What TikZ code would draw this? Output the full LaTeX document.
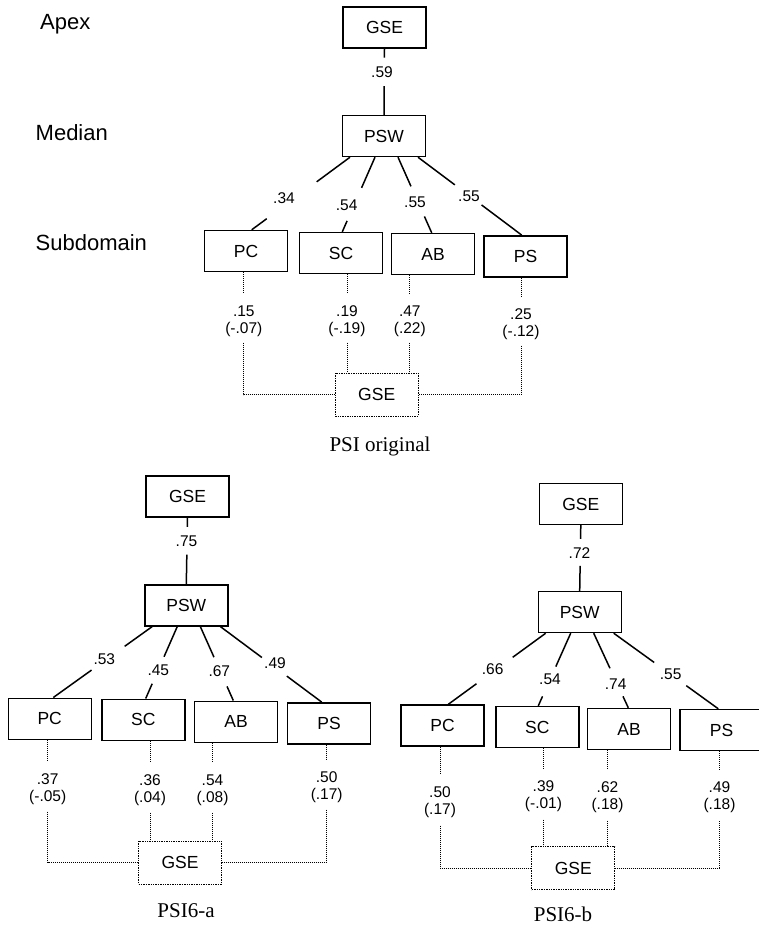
\documentclass[tikz,border=0pt]{standalone}
\usepackage{fontspec}
\setmainfont{Liberation Sans}
\newfontfamily\serifcap{Liberation Serif}
\usetikzlibrary{calc}
\tikzset{
 box/.style={draw, line width=1.4pt, minimum width=83pt, minimum height=41pt, inner sep=0pt, font=\fontsize{17.5}{20}\selectfont},
 dbox/.style={box, densely dotted, line width=1pt, minimum height=43pt},
 edge/.style={line width=1.5pt},
 dots/.style={densely dotted, line width=1pt},
 coef/.style={inner sep=0pt, font=\fontsize{15.5}{17}\selectfont},
 pair/.style={inner sep=0pt, align=center, font=\fontsize{15.5}{17}\selectfont},
 levellab/.style={anchor=base west, inner sep=0pt, font=\fontsize{22}{26}\selectfont},
 captext/.style={inner sep=0pt, font=\serifcap\fontsize{21}{25}\selectfont},
}
\newcommand\gapedge[4]{%
 \draw[edge] (#1) -- ($(#1)!#3!(#2)$);
 \draw[edge] ($(#1)!#4!(#2)$) -- (#2);}
\begin{document}
\begin{tikzpicture}[x=1pt,y=-1pt]
\useasboundingbox (0,0) rectangle (758,931);
% level labels
\node[levellab] (apex) at (40,29.5) {Apex};
\node[levellab] (median) at (35.5,140) {Median};
\node[levellab] (subd) at (35.5,250.5) {Subdomain};

% ===== PSI original =====
\node[box] (gse1) at (384.5,27.5) {GSE};
\node[box] (psw1) at (384,136) {PSW};
\node[box] (pc1) at (246,251) {PC};
\node[box] (sc1) at (341,253) {SC};
\node[box] (ab1) at (433,254) {AB};
\node[box] (ps1) at (525.5,256.3) {PS};
\node[dbox] (gseb1) at (376.7,394.7) {GSE};
\node[captext] (cap1) at (380,446) {PSI original};
\node[coef] (c1) at (382,72) {.59};
\gapedge{gse1.south}{psw1.north}{0.134}{0.567}
\node[coef] (l11) at (284,198) {.34};
\node[coef] (l12) at (346.7,205) {.54};
\node[coef] (l13) at (415,202) {.55};
\node[coef] (l14) at (469,196) {.55};
\coordinate (s11) at ($(psw1.south)+(-34,0)$);
\coordinate (s12) at ($(psw1.south)+(-9,0)$);
\coordinate (s13) at ($(psw1.south)+(14,0)$);
\coordinate (s14) at ($(psw1.south)+(34,0)$);
\coordinate (e11) at ($(pc1.north)+(5.7,0)$);
\coordinate (e12) at ($(sc1.north)+(1.3,0)$);
\coordinate (e13) at ($(ab1.north)+(-1.3,0)$);
\coordinate (e14) at ($(ps1.north)+(-3.8,0)$);
\gapedge{s11}{e11}{0.339}{0.847}
\gapedge{s12}{e12}{0.411}{0.853}
\gapedge{s13}{e13}{0.385}{0.784}
\gapedge{s14}{e14}{0.355}{0.613}
\node[pair] (p11) at (243.8,321) {.15\\(-.07)};
\node[pair] (p12) at (347,321) {.19\\(-.19)};
\node[pair] (p13) at (409.8,321) {.47\\(.22)};
\node[pair] (p14) at (521,324) {.25\\(-.12)};
\draw[dots] (p11.north |- pc1.south) -- ($(p11.north)+(0,-12)$);
\draw[dots] (p12.north |- sc1.south) -- ($(p12.north)+(0,-12)$);
\draw[dots] (p13.north |- ab1.south) -- ($(p13.north)+(0,-12)$);
\draw[dots] (p14.north |- ps1.south) -- ($(p14.north)+(0,-12)$);
\draw[dots] ($(p11.south)+(0,6)$) |- (gseb1.west);
\draw[dots] ($(p12.south)+(0,6)$) -- (p12.south |- gseb1.north);
\draw[dots] ($(p13.south)+(0,6)$) -- (p13.south |- gseb1.north);
\draw[dots] ($(p14.south)+(0,6)$) |- (gseb1.east);

% ===== PSI6-a =====
\node[box] (gse2) at (187.5,496.5) {GSE};
\node[box] (psw2) at (186.3,605.3) {PSW};
\node[box] (pc2) at (49.7,718.7) {PC};
\node[box] (sc2) at (143.3,719.7) {SC};
\node[box] (ab2) at (236,721.7) {AB};
\node[box] (ps2) at (329,723.3) {PS};
\node[dbox] (gseb2) at (180,862.5) {GSE};
\node[captext] (cap2) at (186,911) {PSI6-a};
\node[coef] (c2) at (186.5,541) {.75};
\gapedge{gse2.south}{psw2.north}{0.139}{0.557}
\node[coef] (l21) at (104.3,659.3) {.53};
\node[coef] (l22) at (158.3,670) {.45};
\node[coef] (l23) at (219.3,670.7) {.67};
\node[coef] (l24) at (275,663.3) {.49};
\coordinate (s21) at ($(psw2.south)+(-34,0)$);
\coordinate (s22) at ($(psw2.south)+(-9,0)$);
\coordinate (s23) at ($(psw2.south)+(14,0)$);
\coordinate (s24) at ($(psw2.south)+(34,0)$);
\coordinate (e21) at ($(pc2.north)+(3.6,0)$);
\coordinate (e22) at ($(sc2.north)+(2.4,0)$);
\coordinate (e23) at ($(ab2.north)+(-2.7,0)$);
\coordinate (e24) at ($(ps2.north)+(-7.3,0)$);
\gapedge{s21}{e21}{0.279}{0.614}
\gapedge{s22}{e22}{0.42}{0.795}
\gapedge{s23}{e23}{0.415}{0.81}
\gapedge{s24}{e24}{0.41}{0.656}
\node[pair] (p21) at (47.7,789) {.37\\(-.05)};
\node[pair] (p22) at (150,790) {.36\\(.04)};
\node[pair] (p23) at (212.5,790) {.54\\(.08)};
\node[pair] (p24) at (326.7,787) {.50\\(.17)};
\draw[dots] (p21.north |- pc2.south) -- ($(p21.north)+(0,-12)$);
\draw[dots] (p22.north |- sc2.south) -- ($(p22.north)+(0,-12)$);
\draw[dots] (p23.north |- ab2.south) -- ($(p23.north)+(0,-12)$);
\draw[dots] (p24.north |- ps2.south) -- ($(p24.north)+(0,-12)$);
\draw[dots] ($(p21.south)+(0,7)$) |- (gseb2.west);
\draw[dots] ($(p22.south)+(0,7)$) -- (p22.south |- gseb2.north);
\draw[dots] ($(p23.south)+(0,7)$) -- (p23.south |- gseb2.north);
\draw[dots] ($(p24.south)+(0,7)$) |- (gseb2.east);

% ===== PSI6-b =====
\node[box] (gse3) at (580.8,504) {GSE};
\node[box] (psw3) at (579.7,612) {PSW};
\node[box] (pc3) at (442.5,725.5) {PC};
\node[box] (sc3) at (537.3,727) {SC};
\node[box] (ab3) at (629,729) {AB};
\node[box] (ps3) at (721.5,730) {PS};
\node[dbox] (gseb3) at (573.3,868) {GSE};
\node[captext] (cap3) at (563,914) {PSI6-b};
\node[coef] (c3) at (579.5,552.7) {.72};
\gapedge{gse3.south}{psw3.north}{0.208}{0.62}
\node[coef] (l31) at (492.7,669.3) {.66};
\node[coef] (l32) at (550,679.3) {.54};
\node[coef] (l33) at (615.7,684.3) {.74};
\node[coef] (l34) at (670.7,674.3) {.55};
\coordinate (s31) at ($(psw3.south)+(-34,0)$);
\coordinate (s32) at ($(psw3.south)+(-9,0)$);
\coordinate (s33) at ($(psw3.south)+(14,0)$);
\coordinate (s34) at ($(psw3.south)+(34,0)$);
\coordinate (e31) at ($(pc3.north)+(5.8,0)$);
\coordinate (e32) at ($(sc3.north)+(1,0)$);
\coordinate (e33) at ($(ab3.north)+(-0.7,0)$);
\coordinate (e34) at ($(ps3.north)+(-3.2,0)$);
\gapedge{s31}{e31}{0.339}{0.711}
\gapedge{s32}{e32}{0.46}{0.87}
\gapedge{s33}{e33}{0.47}{0.846}
\gapedge{s34}{e34}{0.387}{0.694}
\node[pair] (p31) at (440,802) {.50\\(.17)};
\node[pair] (p32) at (543.5,796) {.39\\(-.01)};
\node[pair] (p33) at (607.5,797) {.62\\(.18)};
\node[pair] (p34) at (719.5,797.5) {.49\\(.18)};
\draw[dots] (p31.north |- pc3.south) -- ($(p31.north)+(0,-12)$);
\draw[dots] (p32.north |- sc3.south) -- ($(p32.north)+(0,-12)$);
\draw[dots] (p33.north |- ab3.south) -- ($(p33.north)+(0,-12)$);
\draw[dots] (p34.north |- ps3.south) -- ($(p34.north)+(0,-12)$);
\draw[dots] ($(p31.south)+(0,8)$) |- (gseb3.west);
\draw[dots] ($(p32.south)+(0,8)$) -- (p32.south |- gseb3.north);
\draw[dots] ($(p33.south)+(0,8)$) -- (p33.south |- gseb3.north);
\draw[dots] ($(p34.south)+(0,8)$) |- (gseb3.east);
\end{tikzpicture}
\end{document}
